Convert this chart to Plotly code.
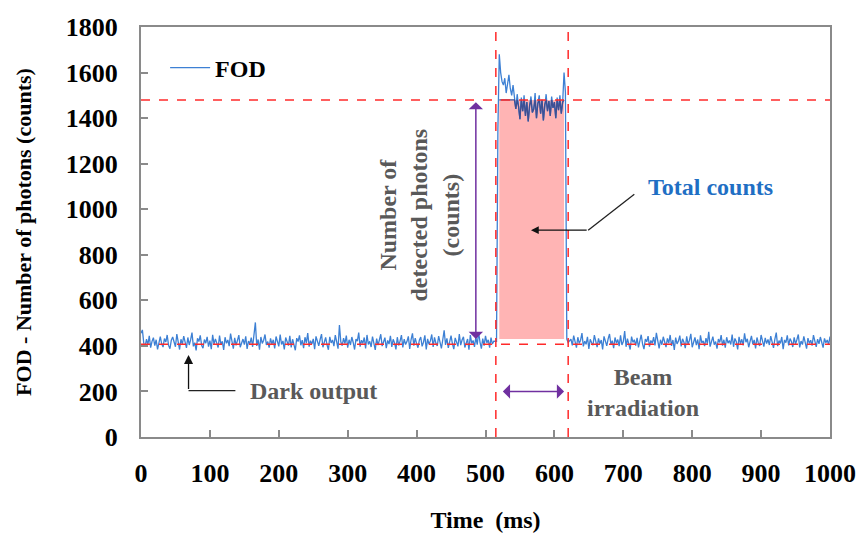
import numpy as np
import plotly.graph_objects as go

# ---------------- data ----------------
dark_before_start, dark_before_step = 0, 2      # ms
dark_before = [
    455, 470, 412, 398, 430, 405, 444, 392, 420, 436, 401, 427, 385, 418, 441, 409,
    395, 432, 417, 448, 402, 388, 425, 439, 410, 396, 452, 415, 384, 429, 407, 443,
    421, 391, 437, 404, 426, 458, 398, 414, 380, 433, 419, 446, 403, 390, 428, 412,
    440, 397, 423, 386, 449, 408, 431, 416, 393, 445, 405, 420, 382, 438, 411, 426,
    399, 454, 413, 388, 435, 402, 424, 447, 394, 418, 430, 406, 442, 387, 421, 409,
    436, 396, 462, 503, 400, 428, 383, 439, 411, 425, 450, 404, 419, 392, 433, 408,
    427, 389, 441, 414, 398, 450, 406, 422, 385, 437, 417, 401, 444, 393, 429, 410,
    381, 434, 419, 446, 403, 425, 390, 438, 412, 456, 397, 423, 408, 431, 386, 442,
    416, 400, 428, 452, 394, 420, 437, 405, 383, 440, 413, 426, 399, 447, 409, 388,
    492, 418, 401, 434, 410, 445, 392, 427, 404, 439, 415, 384, 430, 421, 458, 397,
    425, 411, 437, 389, 448, 406, 420, 395, 441, 414, 382, 432, 403, 426, 451, 399,
    417, 436, 390, 424, 408, 444, 396, 429, 413, 385, 438, 402, 421, 447, 393, 430,
    406, 419, 442, 387, 428, 455, 401, 434, 410, 392, 425, 439, 398, 416, 446, 384,
    431, 407, 422, 450, 395, 437, 412, 400, 443, 418, 389, 427, 468, 404, 433, 391,
    420, 445, 409, 386, 435, 414, 398, 452, 403, 426, 440, 393, 418, 430, 383, 447,
    411, 424, 396, 438, 405, 460, 417, 388, 432, 401, 444, 413, 427, 392, 436, 408,
    421,
]
signal_start, signal_step = 516, 2              # ms
signal = [
    420, 1350, 1680, 1600, 1560, 1545, 1575, 1510, 1555, 1590, 1530, 1500, 1545, 1480, 1440, 1505,
    1450, 1395, 1490, 1430, 1500, 1410, 1470, 1385, 1455, 1495, 1425, 1440, 1510, 1400, 1465, 1500,
    1420, 1480, 1390, 1460, 1505, 1430, 1475, 1410, 1495, 1445, 1470, 1400, 1490, 1435, 1500, 1420,
    1470, 1600, 1515, 430, 415,
]
dark_after_start, dark_after_step = 624, 2      # ms
dark_after = [
    430, 402, 445, 416, 392, 438, 411, 425, 456, 398, 421, 407, 440, 387, 429, 414,
    403, 447, 420, 395, 433, 409, 426, 385, 442, 417, 400, 431, 452, 406, 423, 390,
    437, 412, 428, 399, 446, 404, 419, 465, 396, 432, 410, 384, 441, 415, 427, 401,
    435, 393, 422, 449, 408, 386, 430, 418, 443, 397, 424, 411, 438, 402, 457, 414,
    389, 427, 405, 440, 420, 395, 433, 412, 448, 400, 426, 382, 436, 409, 421, 445,
    398, 431, 416, 390, 442, 407, 424, 453, 394, 418, 437, 403, 428, 386, 446, 413,
    422, 399, 434, 410, 462, 397, 425, 441, 405, 419, 388, 430, 415, 447, 401, 427,
    392, 438, 412, 424, 406, 450, 396, 433, 418, 385, 440, 409, 429, 402, 455, 416,
    431, 394, 420, 444, 407, 426, 389, 437, 413, 400, 448, 421, 397, 435, 410, 428,
    404, 443, 418, 391, 430, 458, 399, 423, 411, 439, 386, 426, 414, 446, 402, 432,
    419, 395, 437, 408, 428, 450, 393, 421, 406, 442, 415, 388, 434, 411, 425, 401,
    447, 417, 396, 430, 409, 439, 420, 392, 433, 414, 426, 405, 441,
]

dark_level = 407        # counts (dark output reference line)
peak_level = 1480       # counts (beam level reference line)
beam_on, beam_off = 515, 620        # ms (dashed verticals)
fill_x0, fill_x1 = 520, 614         # ms (total counts area)
fill_y0 = 430

x_ticks = [0, 100, 200, 300, 400, 500, 600, 700, 800, 900, 1000]
y_ticks = [0, 200, 400, 600, 800, 1000, 1200, 1400, 1600, 1800]

# ---------------- build series ----------------
t = np.concatenate([
    dark_before_start + dark_before_step * np.arange(len(dark_before)),
    signal_start + signal_step * np.arange(len(signal)),
    dark_after_start + dark_after_step * np.arange(len(dark_after)),
])
y = np.array(dark_before + signal + dark_after, dtype=float)

sig_t = signal_start + signal_step * np.arange(len(signal))
sig_v = np.array(signal, dtype=float)
mask = (sig_t >= fill_x0) & (sig_t <= fill_x1)

SERIF = "Liberation Serif"
RED = "#ff2a2a"
PURPLE = "#7030a0"
GRAY = "#595959"
FS = 24

fig = go.Figure()
fig.add_trace(go.Scatter(
    x=t, y=y, mode="lines", name="<b>FOD</b>",
    line=dict(color="#3d80d4", width=1.3),
))
fig.add_trace(go.Scatter(
    x=sig_t[mask], y=np.minimum(sig_v[mask], peak_level), mode="lines",
    line=dict(color="#3e4f92", width=1.3), showlegend=False, hoverinfo="skip",
))

shapes = [
    # total counts area
    dict(type="rect", xref="x", yref="y", x0=fill_x0, x1=fill_x1, y0=fill_y0, y1=peak_level,
         fillcolor="#ffb4b4", line=dict(width=0), layer="below"),
    # reference dashed lines
    dict(type="line", xref="paper", yref="y", x0=0, x1=1, y0=peak_level, y1=peak_level,
         line=dict(color=RED, width=1.5, dash="dash")),
    dict(type="line", xref="paper", yref="y", x0=0, x1=1, y0=dark_level, y1=dark_level,
         line=dict(color=RED, width=1.5, dash="dash")),
    dict(type="line", xref="x", yref="paper", x0=beam_on, x1=beam_on, y0=0, y1=1,
         line=dict(color=RED, width=1.5, dash="dash")),
    dict(type="line", xref="x", yref="paper", x0=beam_off, x1=beam_off, y0=0, y1=1,
         line=dict(color=RED, width=1.5, dash="dash")),
    # pointer lines
    dict(type="path", xref="x", yref="y", path="M 716,1066 L 649,908",
         line=dict(color="#222222", width=1.3)),
    dict(type="path", xref="x", yref="y", path="M 137,204 L 69,204",
         line=dict(color="#222222", width=1.3)),
]

annotations = [
    # vertical double arrow
    dict(x=486, y=1470, ax=486, ay=424, xref="x", yref="y", axref="x", ayref="y",
         text="", showarrow=True, arrowhead=1, arrowside="end+start", arrowsize=1.6,
         arrowwidth=1.5, arrowcolor=PURPLE),
    # horizontal double arrow
    dict(x=614, y=200, ax=523, ay=200, xref="x", yref="y", axref="x", ayref="y",
         text="", showarrow=True, arrowhead=1, arrowside="end+start", arrowsize=1.6,
         arrowwidth=1.5, arrowcolor=PURPLE),
    # total counts arrow
    dict(x=566, y=908, ax=649, ay=908, xref="x", yref="y", axref="x", ayref="y",
         text="", showarrow=True, arrowhead=2, arrowsize=1.2, arrowwidth=1.3,
         arrowcolor="#111111"),
    # dark output arrow
    dict(x=69, y=360, ax=69, ay=204, xref="x", yref="y", axref="x", ayref="y",
         text="", showarrow=True, arrowhead=2, arrowsize=1.4, arrowwidth=1.3,
         arrowcolor="#111111"),
    dict(x=827, y=1097, xref="x", yref="y", text="<b>Total counts</b>", showarrow=False,
         font=dict(family=SERIF, size=FS, color="#1f6fc4")),
    dict(x=251, y=200, xref="x", yref="y", text="<b>Dark output</b>", showarrow=False,
         font=dict(family=SERIF, size=FS, color=GRAY)),
    dict(x=729, y=196, xref="x", yref="y", text="<b>Beam<br>irradiation</b>", showarrow=False,
         font=dict(family=SERIF, size=FS, color=GRAY), align="center"),
    dict(x=404, y=974, xref="x", yref="y",
         text="<b>Number of<br>detected photons<br>(counts)</b>", showarrow=False,
         textangle=-90, font=dict(family=SERIF, size=FS, color=GRAY), align="center"),
]

fig.update_layout(
    width=862, height=535,
    margin=dict(l=141, r=32, t=27, b=98, autoexpand=False),
    paper_bgcolor="white", plot_bgcolor="white",
    shapes=shapes, annotations=annotations,
    showlegend=True,
    legend=dict(x=0.035, y=0.955, xanchor="left", yanchor="top",
                font=dict(family=SERIF, size=FS, color="black"),
                bgcolor="rgba(0,0,0,0)", itemwidth=40),
    font=dict(family=SERIF),
)
fig.update_xaxes(
    range=[0, 1000], tickvals=x_ticks, ticktext=[f"<b>{v}</b>" for v in x_ticks],
    ticks="inside", ticklen=7, tickcolor="#8a8a8a", tickwidth=1.5,
    showline=True, linecolor="#8a8a8a", linewidth=2, mirror=True, automargin=False,
    showgrid=False, zeroline=False, ticklabelstandoff=12,
    tickfont=dict(family=SERIF, size=26, color="black"),
    title=dict(text="<b>Time  (ms)</b>", font=dict(family=SERIF, size=FS, color="black"),
               standoff=24),
)
fig.update_yaxes(
    range=[0, 1800], tickvals=y_ticks, ticktext=[f"<b>{v}</b>" for v in y_ticks],
    ticks="inside", ticklen=7, tickcolor="#8a8a8a", tickwidth=1.5,
    showline=True, linecolor="#8a8a8a", linewidth=2, mirror=True, automargin=False,
    showgrid=False, zeroline=False, ticklabelstandoff=16,
    tickfont=dict(family=SERIF, size=26, color="black"),
    title=dict(text="<b>FOD - Number of photons (counts)</b>",
               font=dict(family=SERIF, size=22, color="black"), standoff=28),
)

fig.write_html("out.html")
